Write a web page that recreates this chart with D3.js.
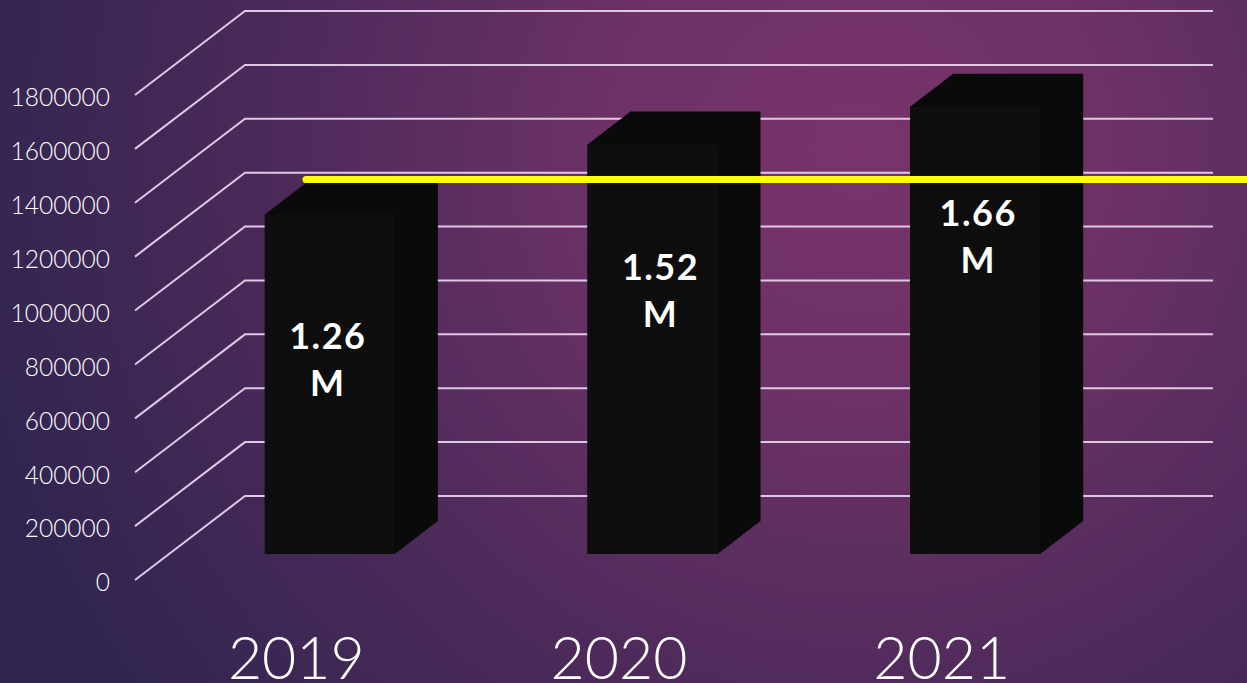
<!DOCTYPE html>
<html>
<head>
<meta charset="utf-8">
<script src="https://cdn.jsdelivr.net/npm/d3@7"></script>
<style>
  html, body { margin: 0; padding: 0; background: #35254f; overflow: hidden; }
  svg { display: block; }
  text { font-family: Lato, "Open Sans", sans-serif; fill: #fff; }
</style>
</head>
<body>
<svg id="chart" width="1247" height="683"></svg>
<script>
// Yearly totals, shown as extruded columns against a reference level.
const years = ["2019", "2020", "2021"];
const values = [1260000, 1520000, 1660000];
const valueLabels = ["1.26", "1.52", "1.66"];
const valueUnit = "M";
const yTicks = [0, 200000, 400000, 600000, 800000, 1000000, 1200000, 1400000, 1600000, 1800000];
const referenceValue = 1390000;

const svg = d3.select("#chart");

// Background glow
const defs = svg.append("defs");
const glow = defs.append("radialGradient")
  .attr("id", "glow").attr("gradientUnits", "userSpaceOnUse")
  .attr("cx", 860).attr("cy", 150).attr("r", 920);
[[0, "#78346a"], [0.3, "#6b3166"], [0.62, "#4d2a5a"], [1, "#30254f"]]
  .forEach(([o, c]) => glow.append("stop").attr("offset", o).attr("stop-color", c));
svg.append("rect").attr("width", 1247).attr("height", 683).attr("fill", "url(#glow)");

// Scales for the front plane of the 3D frame
const y = d3.scaleLinear().domain([0, 1800000]).range([580, 95]);
const x = d3.scaleBand().domain(years).range([135, 1103])
  .paddingInner(0.597).paddingOuter(0.2985);

// Oblique projection of the frame
const wall = { dx: 110, dy: -84 };        // front plane to back wall
const barShift = { dx: 33.5, dy: -26 };   // front plane to bar face
const barDepth = { dx: 43, dy: -33 };     // bar face to bar rear
const wallWidth = x.range()[1] - x.range()[0];

// Gridlines: diagonal along the floor side, then level along the back wall
svg.append("g").selectAll("path").data(yTicks).join("path")
  .attr("fill", "none").attr("stroke", "#dfc8e4").attr("stroke-width", 2)
  .attr("d", d => d3.line()([
    [x.range()[0], y(d)],
    [x.range()[0] + wall.dx, y(d) + wall.dy],
    [x.range()[0] + wall.dx + wallWidth, y(d) + wall.dy]
  ]));

// Value axis labels
const axis = svg.append("g")
  .attr("transform", `translate(${x.range()[0] - 25},3)`)
  .call(d3.axisLeft(y).tickValues(yTicks).tickSize(0).tickPadding(0).tickFormat(d3.format("d")));
axis.select(".domain").remove();
axis.selectAll("text").attr("font-family", "Lato").attr("font-weight", 300)
  .attr("font-size", 24.5).attr("fill", "#fff");

// Columns: full darker silhouette first, then the lighter front face
const bars = svg.append("g").selectAll("g").data(years).join("g")
  .attr("transform", `translate(${barShift.dx},${barShift.dy})`);
const barLeft = d => x(d);
const barRight = d => x(d) + x.bandwidth();
const barTop = (d, i) => y(values[i]);

bars.append("path").attr("fill", "#0a0a0a")
  .attr("d", (d, i) => d3.line()([
    [barLeft(d), barTop(d, i)],
    [barLeft(d) + barDepth.dx, barTop(d, i) + barDepth.dy],
    [barRight(d) + barDepth.dx, barTop(d, i) + barDepth.dy],
    [barRight(d) + barDepth.dx, y(0) + barDepth.dy],
    [barRight(d), y(0)],
    [barLeft(d), y(0)]
  ]) + "Z");
bars.append("rect").attr("fill", "#0e0e0e")
  .attr("x", barLeft).attr("y", barTop)
  .attr("width", x.bandwidth())
  .attr("height", (d, i) => y(0) - barTop(d, i));

// Reference level across the columns
svg.append("line")
  .attr("x1", 306).attr("x2", 1260)
  .attr("y1", y(referenceValue) + barShift.dy)
  .attr("y2", y(referenceValue) + barShift.dy)
  .attr("stroke", "#ffff00").attr("stroke-width", 7).attr("stroke-linecap", "round");

// Value labels wrapped onto two lines inside each column
const labelNudge = [{ dx: -2, dy: 0 }, { dx: 8, dy: 2 }, { dx: 3, dy: -15 }];
const labels = svg.append("g").selectAll("text").data(years).join("text")
  .attr("text-anchor", "middle").attr("font-weight", 700).attr("font-size", 36)
  .attr("letter-spacing", 1.5)
  .attr("transform", (d, i) =>
    `translate(${x(d) + x.bandwidth() / 2 + barShift.dx + labelNudge[i].dx},${barTop(d, i) + barShift.dy + 134 + labelNudge[i].dy})`);
labels.append("tspan").attr("x", 0).attr("y", 0).text((d, i) => valueLabels[i]);
labels.append("tspan").attr("x", 0).attr("y", 47).text(valueUnit);

// Category labels
svg.append("g").selectAll("text").data(years).join("text")
  .attr("x", d => x(d) + x.bandwidth() / 2).attr("y", 679)
  .attr("text-anchor", "middle").attr("font-weight", 300).attr("font-size", 59)
  .text(d => d);
</script>
</body>
</html>
